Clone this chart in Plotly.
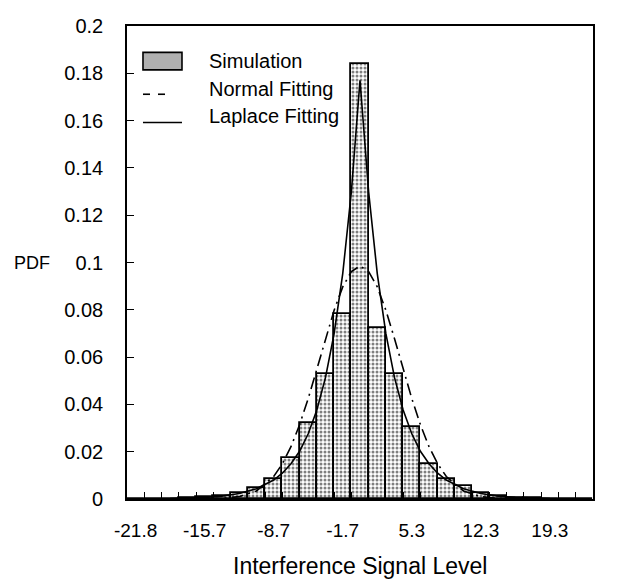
import plotly.graph_objects as go

# ---- data ----
bin_centers = [-22.7, -20.95, -19.2, -17.45, -15.7, -13.95, -12.2, -10.45, -8.7,
               -6.95, -5.2, -3.45, -1.7, 0.05, 1.8, 3.55, 5.3, 7.05, 8.8,
               10.55, 12.3, 14.05, 15.8, 17.55, 19.3, 21.05, 22.8]
sim_pdf = [0.0, 0.0, 0.0002, 0.0004, 0.0007, 0.0012, 0.0025, 0.0046, 0.0083,
           0.0174, 0.032, 0.053, 0.0784, 0.1838, 0.0723, 0.0527, 0.0303, 0.0147,
           0.0083, 0.0055, 0.0025, 0.0012, 0.0006, 0.0003, 0.0001, 0.0, 0.0]

curve_x = [-22.7, -19.2, -15.7, -13.95, -12.2, -10.45, -8.7, -7.825, -6.95, -6.075,
           -5.2, -4.325, -3.45, -2.575, -1.7, -0.825, 0.05, 0.925, 1.8, 2.675,
           3.55, 4.425, 5.3, 6.175, 7.05, 7.925, 8.8, 10.55, 12.3, 14.05, 15.8,
           19.3, 22.8]
normal_pdf = [0.0, 0.0, 0.00005, 0.00025, 0.0010, 0.0034, 0.0095, 0.0149, 0.0221,
              0.0314, 0.0425, 0.0550, 0.0678, 0.0798, 0.0897, 0.0962, 0.0985,
              0.0962, 0.0897, 0.0798, 0.0678, 0.0550, 0.0425, 0.0314, 0.0221,
              0.0149, 0.0095, 0.0034, 0.0010, 0.00025, 0.00005, 0.0, 0.0]
laplace_pdf = [0.00006, 0.0002, 0.0007, 0.0012, 0.0023, 0.0043, 0.0080, 0.0109,
               0.0149, 0.0202, 0.0276, 0.0376, 0.0513, 0.0699, 0.0953, 0.1299,
               0.177, 0.1299, 0.0953, 0.0699, 0.0513, 0.0376, 0.0276, 0.0202,
               0.0149, 0.0109, 0.0080, 0.0043, 0.0023, 0.0012, 0.0007, 0.0002,
               0.00006]

tick_labels = ["-21.8", "-15.7", "-8.7", "-1.7", "5.3", "12.3", "19.3"]
tick_positions = bin_centers[::4][:len(tick_labels)]
bin_width = 1.75

FONT = "Liberation Sans, Arial, Helvetica, sans-serif"

fig = go.Figure()
fig.add_trace(go.Bar(
    x=bin_centers, y=sim_pdf, width=bin_width, name="Simulation",
    marker=dict(color="white", line=dict(color="black", width=1.8),
                pattern=dict(shape=".", fgcolor="black", bgcolor="white",
                             size=4, solidity=0.45)),
))
fig.add_trace(go.Scatter(
    x=curve_x, y=normal_pdf, mode="lines", name="Normal Fitting",
    line=dict(color="black", width=1.6, dash="12px,5px,2px,5px"),
))
fig.add_trace(go.Scatter(
    x=curve_x, y=laplace_pdf, mode="lines", name="Laplace Fitting",
    line=dict(color="black", width=1.6),
))

x0 = bin_centers[0] - bin_width / 2
x1 = bin_centers[-1] + bin_width / 2

fig.update_layout(
    width=630, height=583,
    margin=dict(l=119, r=45, t=7, b=92),
    paper_bgcolor="white", plot_bgcolor="white",
    showlegend=False, bargap=0,
    font=dict(family=FONT, size=19, color="black"),
    xaxis=dict(
        range=[x0, x1], tickvals=tick_positions, ticktext=tick_labels,
        ticks="inside", ticklen=0, showgrid=False, zeroline=False,
        showline=True, linecolor="black", linewidth=1.6, mirror=True,
        ticklabelstandoff=13,
        minor=dict(tick0=x0 + bin_width, dtick=bin_width, ticks="inside",
                   ticklen=7, tickcolor="black", tickwidth=1.2, showgrid=False),
    ),
    yaxis=dict(
        range=[0, 0.2], dtick=0.02, ticks="inside", ticklen=7, tickwidth=1.2,
        tickcolor="black", showgrid=False, zeroline=False,
        showline=True, linecolor="black", linewidth=1.6, mirror=True,
        ticklabelstandoff=18, tickfont=dict(size=20),
        ticklabeloverflow="allow",
    ),
)

# axis titles
fig.add_annotation(text="Interference Signal Level", xref="paper", yref="paper",
                   x=0.5, y=-0.1426, showarrow=False, yanchor="middle",
                   font=dict(size=23))
fig.add_annotation(text="PDF", xref="paper", yref="paper", x=-0.204, y=0.5,
                   showarrow=False, xanchor="center", yanchor="middle",
                   font=dict(size=18))

# manual legend
SW_X0, SW_X1 = 0.0343, 0.118
fig.add_shape(type="rect", xref="paper", yref="paper",
              x0=SW_X0, x1=SW_X1, y0=0.9072, y1=0.9443,
              fillcolor="#b0b0b0", line=dict(color="black", width=1.6))
fig.add_shape(type="line", xref="paper", yref="paper",
              x0=0.0343, x1=0.0494, y0=0.8557, y1=0.8557,
              line=dict(color="black", width=1.6))
fig.add_shape(type="line", xref="paper", yref="paper",
              x0=0.0665, x1=0.0815, y0=0.8557, y1=0.8557,
              line=dict(color="black", width=1.6))
fig.add_shape(type="line", xref="paper", yref="paper",
              x0=SW_X0, x1=SW_X1, y0=0.7959, y1=0.7959,
              line=dict(color="black", width=1.6))
legend_texts = ["Simulation", "Normal Fitting", "Laplace Fitting"]
legend_ys = [0.9258, 0.8660, 0.8103]
for t, yy in zip(legend_texts, legend_ys):
    fig.add_annotation(text=t, xref="paper", yref="paper", x=0.1717, y=yy,
                       xanchor="left", yanchor="middle", showarrow=False,
                       font=dict(size=20))

fig.write_html("out.html")
